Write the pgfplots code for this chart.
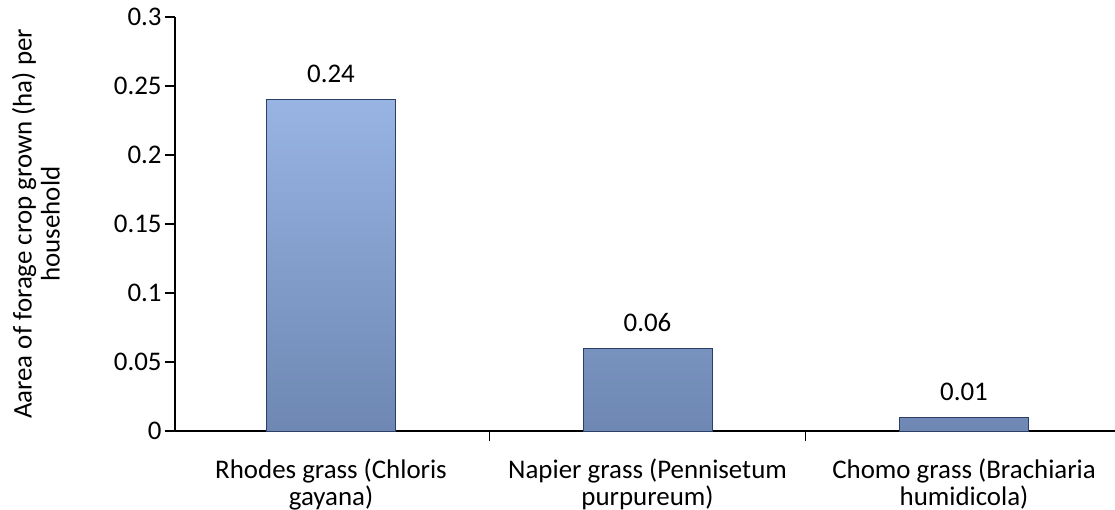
\documentclass[border=0pt]{standalone}
\usepackage{pgfplots}
\pgfplotsset{compat=1.18}
\usepackage{fontspec}
\setmainfont{Carlito}

\definecolor{barTop}{HTML}{98B4E3}
\definecolor{barBot}{HTML}{6E87B3}
\definecolor{barEdge}{HTML}{2E3F66}

\begin{document}
\fontsize{13.5}{14}\selectfont
\begin{tikzpicture}
\useasboundingbox (-87.5bp,-39.5bp) rectangle (470bp,215.5bp);
\begin{axis}[
  scale only axis,
  width=470bp, height=207bp,
  xmin=-0.493, xmax=2.477,
  ymin=0, ymax=0.3,
  axis x line*=bottom, axis y line*=left,
  axis line style={line width=0.7bp, -},
  tick style={line width=0.7bp, black},
  tick align=outside,
  major tick length=5bp,
  minor tick length=5bp,
  ytick={0,0.05,0.1,0.15,0.2,0.25,0.3},
  yticklabel style={/pgf/number format/fixed, /pgf/number format/precision=2,
    /pgf/number format/assume math mode=true, inner sep=1.5bp},
  xtick={0,1,2},
  major x tick style={draw=none},
  minor xtick={0.5,1.5},
  xticklabels={{Rhodes grass (Chloris\\gayana)},
               {Napier grass (Pennisetum\\purpureum)},
               {Chomo grass (Brachiaria\\humidicola)}},
  xticklabel style={align=center, anchor=north, yshift=-4bp},
  ylabel={Aarea of forage crop grown (ha) per\\household},
  every axis y label/.style={at={(axis description cs:-0.148,0.5)},
    anchor=center, rotate=90, align=center},
  ybar, bar width=64.5bp,
  nodes near coords,
  nodes near coords style={/pgf/number format/fixed, /pgf/number format/fixed zerofill,
    /pgf/number format/precision=2, /pgf/number format/assume math mode=true,
    anchor=base, yshift=8.5bp, black},
  clip=false,
]
\addplot[draw=barEdge, line width=0.5bp, top color=barTop, bottom color=barBot]
  coordinates {(0,0.24) (1,0.06) (2,0.01)};
\end{axis}
\end{tikzpicture}
\end{document}
